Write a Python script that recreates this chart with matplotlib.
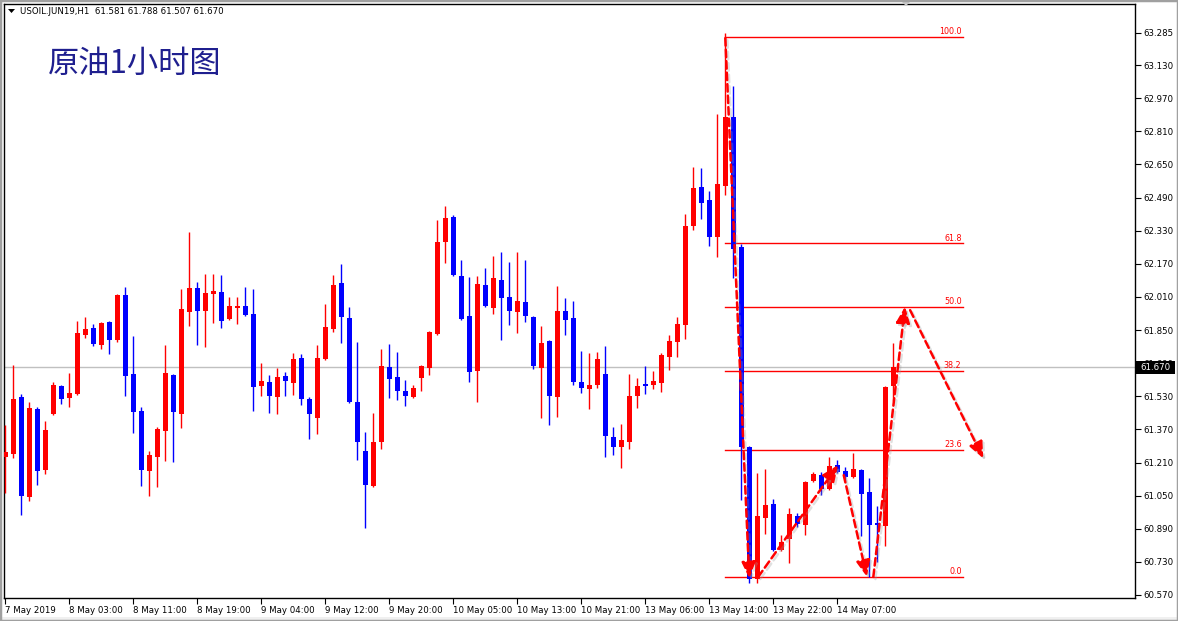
import matplotlib
matplotlib.use('Agg')
import matplotlib.pyplot as plt
import matplotlib.patheffects as pe
from matplotlib.patches import Rectangle, Polygon
from matplotlib.transforms import blended_transform_factory

plt.rcParams['font.family'] = ['DejaVu Sans', 'Noto Sans CJK SC']

# hourly bars, USOIL.JUN19 H1
opens = [61.238, 61.252, 61.526, 61.044, 61.468, 61.175, 61.444, 61.579, 61.521, 61.541,
         61.826, 61.859, 61.777, 61.888, 61.802, 62.019, 61.637, 61.459, 61.169, 61.236,
         61.362, 61.632, 61.444, 61.937, 62.053, 61.942, 62.024, 62.033, 61.903, 61.956,
         61.966, 61.927, 61.579, 61.599, 61.526, 61.628, 61.594, 61.715, 61.516, 61.425,
         61.710, 61.855, 62.077, 61.908, 61.502, 61.265, 61.096, 61.309, 61.671, 61.623,
         61.555, 61.526, 61.618, 61.666, 61.831, 62.275, 62.396, 62.111, 61.918, 61.652,
         62.067, 61.956, 62.092, 62.010, 61.937, 61.985, 61.913, 61.666, 61.797, 61.526,
         61.942, 61.908, 61.599, 61.565, 61.584, 61.637, 61.333, 61.285, 61.309, 61.531,
         61.589, 61.584, 61.594, 61.719, 61.792, 61.874, 62.353, 62.541, 62.478, 62.300,
         62.546, 62.879, 62.251, 61.285, 60.647, 60.942, 61.010, 60.787, 60.841, 60.952,
         60.908, 61.121, 61.150, 61.082, 61.198, 61.169, 61.140, 61.174, 61.067, 60.917,
         60.903, 61.581]
highs = [61.391, 61.681, 61.541, 61.502, 61.478, 61.410, 61.599, 61.584, 61.642, 61.893,
         61.913, 61.879, 61.888, 61.893, 62.024, 62.058, 61.821, 61.478, 61.265, 61.381,
         61.777, 61.637, 62.048, 62.323, 62.082, 62.120, 62.120, 62.116, 62.009, 62.009,
         62.058, 62.048, 61.690, 61.632, 61.666, 61.647, 61.739, 61.734, 61.526, 61.777,
         61.975, 62.116, 62.169, 61.961, 61.792, 61.357, 61.449, 61.758, 61.782, 61.744,
         61.608, 61.584, 61.681, 61.845, 62.382, 62.449, 62.406, 62.188, 62.106, 62.111,
         62.150, 62.208, 62.227, 62.179, 62.227, 62.188, 61.918, 61.869, 61.802, 62.062,
         62.005, 61.990, 61.748, 61.739, 61.744, 61.773, 61.381, 61.396, 61.637, 61.618,
         61.676, 61.652, 61.739, 61.826, 61.913, 62.411, 62.638, 62.633, 62.522, 62.894,
         63.283, 63.029, 62.266, 61.290, 61.159, 61.179, 61.034, 60.860, 60.990, 60.966,
         61.121, 61.164, 61.164, 61.236, 61.222, 61.188, 61.256, 61.179, 61.135, 61.000,
         61.579, 61.788]
lows = [61.064, 61.233, 60.956, 61.025, 61.102, 61.156, 61.439, 61.492, 61.478, 61.536,
        61.811, 61.773, 61.758, 61.734, 61.792, 61.531, 61.352, 61.096, 61.048, 61.091,
        61.217, 61.212, 61.376, 61.869, 61.777, 61.768, 61.884, 61.859, 61.898, 61.879,
        61.918, 61.459, 61.531, 61.449, 61.444, 61.531, 61.536, 61.487, 61.323, 61.347,
        61.705, 61.840, 61.787, 61.497, 61.222, 60.893, 61.091, 61.275, 61.521, 61.512,
        61.483, 61.521, 61.555, 61.632, 61.826, 62.174, 62.111, 61.898, 61.599, 61.502,
        61.961, 61.927, 61.802, 61.874, 61.835, 61.888, 61.661, 61.425, 61.391, 61.429,
        61.826, 61.584, 61.545, 61.468, 61.570, 61.236, 61.246, 61.183, 61.275, 61.473,
        61.541, 61.565, 61.550, 61.657, 61.719, 61.807, 62.333, 62.386, 62.256, 62.203,
        62.502, 62.101, 61.028, 60.628, 60.628, 60.865, 60.782, 60.782, 60.725, 60.899,
        60.860, 61.116, 61.053, 61.077, 61.159, 61.121, 61.135, 60.855, 60.657, 60.729,
        60.807, 61.507]
closes = [61.262, 61.516, 61.049, 61.473, 61.170, 61.367, 61.584, 61.516, 61.545, 61.835,
          61.855, 61.782, 61.884, 61.802, 62.019, 61.628, 61.454, 61.173, 61.246, 61.372,
          61.642, 61.454, 61.951, 62.053, 61.942, 62.029, 62.038, 61.893, 61.966, 61.966,
          61.922, 61.574, 61.603, 61.531, 61.623, 61.603, 61.710, 61.516, 61.444, 61.715,
          61.864, 62.067, 61.913, 61.502, 61.309, 61.101, 61.309, 61.676, 61.613, 61.555,
          61.531, 61.570, 61.676, 61.840, 62.275, 62.391, 62.116, 61.903, 61.647, 62.072,
          61.966, 62.101, 62.005, 61.942, 61.990, 61.918, 61.676, 61.787, 61.531, 61.942,
          61.898, 61.599, 61.570, 61.584, 61.710, 61.338, 61.285, 61.318, 61.531, 61.579,
          61.579, 61.603, 61.729, 61.797, 61.879, 62.353, 62.536, 62.464, 62.300, 62.555,
          62.879, 62.242, 61.285, 60.647, 60.952, 61.005, 60.787, 60.826, 60.961, 60.913,
          61.116, 61.155, 61.082, 61.193, 61.164, 61.140, 61.179, 61.058, 60.908, 60.908,
          61.574, 61.670]

time_labels = ['7 May 2019', '8 May 03:00', '8 May 11:00', '8 May 19:00', '9 May 04:00',
               '9 May 12:00', '9 May 20:00', '10 May 05:00', '10 May 13:00', '10 May 21:00',
               '13 May 06:00', '13 May 14:00', '13 May 22:00', '14 May 07:00']
label_step = 8

price_ticks = [60.570, 60.730, 60.890, 61.050, 61.210, 61.370, 61.530, 61.690, 61.850,
               62.010, 62.170, 62.330, 62.490, 62.650, 62.810, 62.970, 63.130, 63.285]
last_price = 61.670

# fibonacci retracement
fib_high = 63.266
fib_low = 60.657
fib_levels = [100.0, 61.8, 50.0, 38.2, 23.6, 0.0]
fib_x = [89.96, 119.7]

# hand drawn arrows (bar index, price)
arrow_x0 = [90.0, 94.1, 104.8, 108.5, 113.1]
arrow_y0 = [63.26, 60.657, 61.149, 60.657, 61.946]
arrow_x1 = [93.0, 104.1, 107.7, 112.46, 122.25]
arrow_y1 = [60.65, 61.198, 60.658, 61.963, 61.230]

W, H = 1178, 621
UP = '#ff0000'
DOWN = '#0000ff'

fig = plt.figure(figsize=(W / 100, H / 100), dpi=100)
fig.patch.set_facecolor('white')
ax = fig.add_axes([4 / W, 23 / H, 1131 / W, 594 / H])

# candles
for i in range(len(opens)):
    o, h, l, c = opens[i], highs[i], lows[i], closes[i]
    col = UP if c >= o else DOWN
    ax.vlines(i, l, h, color=col, lw=1.0, zorder=3)
    ax.bar(i, max(abs(c - o), 0.006), bottom=min(o, c), width=0.62, color=col,
           linewidth=0, zorder=3)

ax.axhline(last_price, color='#c0c0c0', lw=1.0, zorder=1)

# fib lines
for lv in fib_levels:
    p = fib_low + lv / 100 * (fib_high - fib_low)
    ax.plot(fib_x, [p, p], color='red', lw=1.0, zorder=2)
    ax.annotate('%.1f' % lv, xy=(fib_x[1], p), xytext=(-1, 0.5), textcoords='offset points',
                ha='right', va='bottom', fontsize=5.8, color='red', zorder=4)

# arrows
for i in range(len(arrow_x0)):
    ax.annotate('', xy=(arrow_x1[i], arrow_y1[i]), xytext=(arrow_x0[i], arrow_y0[i]),
                arrowprops=dict(arrowstyle='-|>,head_length=0.65,head_width=0.28',
                                color='red', lw=1.8, linestyle=(0, (3, 1.6)),
                                shrinkA=0, shrinkB=0, mutation_scale=15,
                                path_effects=[pe.SimpleLineShadow(offset=(1.5, -1.5),
                                                                  shadow_color='#999999',
                                                                  alpha=0.3),
                                              pe.Normal()]),
                zorder=6)

ax.set_xlim(-0.16, 141.21)
ax.set_ylim(60.5555, 63.425)

ax.set_xticks(range(0, len(time_labels) * label_step, label_step))
ax.set_xticklabels(time_labels, ha='left', fontsize=6.2)
ax.yaxis.tick_right()
ax.set_yticks(price_ticks)
ax.set_yticklabels(['%.3f' % t for t in price_ticks], fontsize=6.2)
ax.tick_params(axis='x', direction='out', length=4, width=0.8, pad=2, colors='black')
ax.tick_params(axis='y', direction='out', length=4, width=0.8, pad=2, colors='black')
for sp in ax.spines.values():
    sp.set_color('black')
    sp.set_linewidth(1.0)

# current price box on the price scale (covers the 61.690 label like the terminal does)
tr = blended_transform_factory(ax.transAxes, ax.transData)
ax.add_patch(Rectangle((1.0 + 1 / 1131, last_price - 0.031), 39 / 1131, 0.062, transform=tr,
                       clip_on=False, facecolor='black', edgecolor='none', zorder=7))
ax.text(1.0 + 5 / 1131, last_price, '%.3f' % last_price, transform=tr, ha='left',
        va='center', fontsize=6.2, color='white', zorder=8)


def px(x, y):
    return (x / W, 1 - y / H)


# header
fig.add_artist(Polygon([px(8, 9), px(15, 9), px(11.5, 13)], closed=True,
                       facecolor='black', edgecolor='none', transform=fig.transFigure))
fig.text(*px(20, 11), 'USOIL.JUN19,H1  61.581 61.788 61.507 61.670', ha='left',
         va='center', fontsize=6.2, color='black')
fig.text(*px(48, 64), '原油1小时图', ha='left', va='center', fontsize=22.5,
         color='#1f1f8f', family=['Noto Sans CJK SC', 'DejaVu Sans'])

# shift marker and window frame
fig.add_artist(Polygon([px(900, 0), px(912, 0), px(906, 6)], closed=True,
                       facecolor='#c8c8c8', edgecolor='none', transform=fig.transFigure))
fig.add_artist(Rectangle((0, 0), 1, 4 / H, transform=fig.transFigure,
                         facecolor='#f0f0f0', edgecolor='none'))
fig.add_artist(Rectangle((0, 0), 1, 1, transform=fig.transFigure, fill=False,
                         edgecolor='#a0a0a0', lw=2.5))

fig.savefig('out.png', dpi=100)
